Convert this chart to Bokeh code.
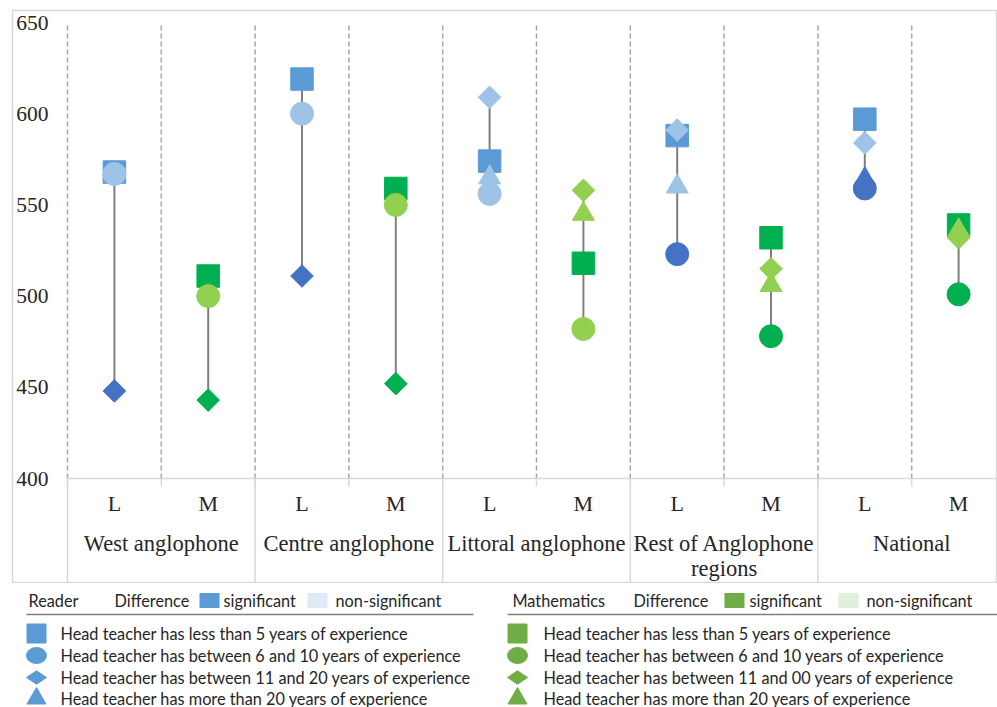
import math
from bokeh.plotting import figure
from bokeh.models import Range1d
from bokeh.layouts import column
from bokeh.core.properties import value
from bokeh.embed import file_html
from bokeh.resources import INLINE

# ---------------- data ----------------
regions = ["West anglophone", "Centre anglophone", "Littoral anglophone",
           "Rest of Anglophone\nregions", "National"]
subjects = ["L", "M"]
yticks = [400, 450, 500, 550, 600, 650]

# one value per column: (West L, West M, Centre L, Centre M, Littoral L, Littoral M, Rest L, Rest M, National L, National M)
less5 = [568, 511, 619, 559, 574, 518, 588, 532, 597, 539]
b6_10 = [567, 500, 600, 550, 556, 482, 523, 478, 559, 501]
b11_20 = [448, 443, 511, 452, 609, 558, 591, 515, 584, 532]
gt20 = [None, None, None, None, 565, 545, 560, 506, 564, 536]
# significance of the difference against the "< 5 years" group (1 = significant)
sig6_10 = [0, 0, 0, 0, 0, 0, 1, 1, 1, 1]
sig11_20 = [1, 1, 1, 1, 0, 0, 0, 0, 0, 0]
sig20 = [0, 0, 0, 0, 0, 0, 0, 0, 1, 0]

legend_reader = ["Head teacher has less than 5 years of experience",
                 "Head teacher has between 6 and 10 years of experience",
                 "Head teacher  has between 11 and 20 years of experience",
                 "Head teacher  has more than 20 years of experience"]
legend_math = ["Head teacher has less than 5 years of experience",
               "Head teacher has between 6 and 10 years of experience",
               "Head teacher has between 11 and 00 years of experience",
               "Head teacher  has more than 20 years of experience"]

# ---------------- styles ----------------
REF_L = "#5B9BD5"
SIG_L = "#4472C4"
NON_L = "#9DC3E6"
REF_M = "#00B050"
SIG_M = "#00B050"
NON_M = "#92D050"
LEG_L = "#5B9BD5"
LEG_M = "#70AD47"
LEG_L_NON = "#DEEBF7"
LEG_M_NON = "#E2F0D9"
SERIF = value("Liberation Serif")
SANS = value("Lato")
TXT = "#262626"

columns = [(r, s) for r in regions for s in subjects]
n = len(columns)
xc = [i + 0.5 for i in range(n)]

W = 997
H1 = 583
BL, BT = 12, 10
PX_COL = 93.8
PX_UNIT = 1.824
frame_w = W - BL
frame_h = H1 - BT
X0 = -(67 - BL) / PX_COL
X1 = X0 + frame_w / PX_COL
Y1 = 650 + (22 - BT) / PX_UNIT
Y0 = Y1 - frame_h / PX_UNIT

p = figure(width=W, height=H1, x_range=Range1d(X0, X1), y_range=Range1d(Y0, Y1),
           output_backend="svg", toolbar_location=None,
           x_axis_location=None, y_axis_location=None,
           min_border_left=BL, min_border_top=BT, min_border_right=0, min_border_bottom=0)
p.grid.visible = False
p.outline_line_color = "#D9D9D9"
p.outline_line_width = 1.5
p.background_fill_color = "white"
p.border_fill_color = "white"

ylo, yhi = yticks[0], yticks[-1]
# dashed column separators
bx = list(range(n))
p.segment(x0=bx, y0=[ylo] * n, x1=bx, y1=[yhi] * n,
          line_color="#A6A6A6", line_dash="5 3", line_width=1.5)
# category axis line
p.segment(x0=[0], y0=[ylo], x1=[n], y1=[ylo], line_color="#D9D9D9", line_width=1.5)
# tick marks at column boundaries
tk = list(range(n + 1))
p.segment(x0=tk, y0=[ylo] * len(tk), x1=tk, y1=[ylo - 8 / PX_UNIT] * len(tk),
          line_color="#D9D9D9", line_width=1.5)
# region separators
rb = list(range(0, n + 1, 2))
p.segment(x0=rb, y0=[ylo] * len(rb), x1=rb, y1=[Y0] * len(rb),
          line_color="#D9D9D9", line_width=1.5)

# range lines
series = [less5, b6_10, b11_20, gt20]
lo, hi = [], []
for i in range(n):
    vals = [s[i] for s in series if s[i] is not None]
    lo.append(min(vals))
    hi.append(max(vals))
p.segment(x0=xc, y0=lo, x1=xc, y1=hi, line_color="#7F7F7F", line_width=2)


def colour(i, sig):
    if columns[i][1] == "L":
        return SIG_L if sig else NON_L
    return SIG_M if sig else NON_M


def pts(vals, sigs=None):
    xs, ys, cs = [], [], []
    for i, v in enumerate(vals):
        if v is None:
            continue
        xs.append(xc[i])
        ys.append(v)
        if sigs is None:
            cs.append(REF_L if columns[i][1] == "L" else REF_M)
        else:
            cs.append(colour(i, sigs[i]))
    return xs, ys, cs


xs, ys, cs = pts(less5)
p.scatter(xs, ys, marker="square", size=22.5, fill_color=cs, line_color=cs)
xs, ys, cs = pts(b6_10, sig6_10)
p.scatter(xs, ys, marker="circle", size=23, fill_color=cs, line_color=cs)
xs, ys, cs = pts(b11_20, sig11_20)
p.scatter(xs, ys, marker="square", angle=math.pi / 4, size=16, fill_color=cs, line_color=cs)
xs, ys, cs = pts(gt20, sig20)
p.scatter(xs, ys, marker="triangle", size=22, fill_color=cs, line_color=cs)

# y tick labels
p.text(x=[-19 / PX_COL] * len(yticks), y=yticks, text=[str(t) for t in yticks],
       text_align="right", text_baseline="middle", text_font=SERIF,
       text_font_size="21.5px", text_color=TXT)
# subject labels
p.text(x=xc, y=[ylo - 25 / PX_UNIT] * n, text=[s for r, s in columns],
       text_align="center", text_baseline="middle", text_font=SERIF,
       text_font_size="22px", text_color=TXT)
# region labels
rx, ry, rt = [], [], []
for j, r in enumerate(regions):
    for k, line in enumerate(r.split("\n")):
        rx.append(2 * j + 1)
        ry.append(ylo - (65 + 25 * k) / PX_UNIT)
        rt.append(line)
p.text(x=rx, y=ry, text=rt, text_align="center", text_baseline="middle",
       text_font=SERIF, text_font_size="22.5px", text_color=TXT)

# ---------------- legend figure ----------------
# its frame is aligned with the chart frame by the column layout, so it starts at BL
H2 = 707 - H1
lg = figure(width=W, height=H2, x_range=Range1d(BL, W), y_range=Range1d(H1 + H2, H1),
            output_backend="svg", toolbar_location=None,
            x_axis_location=None, y_axis_location=None,
            min_border_left=BL, min_border_top=0, min_border_right=0, min_border_bottom=0)
lg.grid.visible = False
lg.outline_line_color = None

HY = 600
LINE_Y = 614
ROWS = [633, 655, 677, 698]
FS = "16.3px"


def legend_block(x_title, title, x_diff, sw_x, sig_x, nsw_x, nsig_x, line_x0, line_x1,
                 mk_x, tx_x, col, ncol, texts):
    lg.text(x=[x_title, x_diff, sig_x, nsig_x], y=[HY] * 4,
            text=[title, "Difference", "significant", "non-significant"],
            text_baseline="middle", text_font=SANS, text_font_size=FS, text_color=TXT)
    lg.rect(x=[sw_x, nsw_x], y=[HY, HY], width=20, height=15,
            fill_color=[col, ncol], line_color=None)
    lg.segment(x0=[line_x0], y0=[LINE_Y], x1=[line_x1], y1=[LINE_Y],
               line_color="#7F7F7F", line_width=1.5)
    lg.scatter([mk_x], [ROWS[0]], marker="square", size=19, fill_color=col, line_color=col)
    lg.ellipse(x=[mk_x], y=[ROWS[1]], width=20, height=16, fill_color=col, line_color=col)
    lg.scatter([mk_x], [ROWS[2]], marker="diamond", angle=math.pi / 2, size=20,
               fill_color=col, line_color=col)
    lg.scatter([mk_x], [ROWS[3]], marker="triangle", size=19, fill_color=col, line_color=col)
    lg.text(x=[tx_x] * 4, y=ROWS, text=texts, text_baseline="middle",
            text_font=SANS, text_font_size=FS, text_color=TXT)


legend_block(28, "Reader", 114, 209, 223, 317, 335, 26, 473, 36, 60, LEG_L, LEG_L_NON, legend_reader)
legend_block(512, "Mathematics", 633, 734, 749, 848, 866, 507, 997, 517, 543, LEG_M, LEG_M_NON, legend_math)

layout = column(p, lg, spacing=0)
open("out.html", "w").write(file_html(layout, INLINE))
